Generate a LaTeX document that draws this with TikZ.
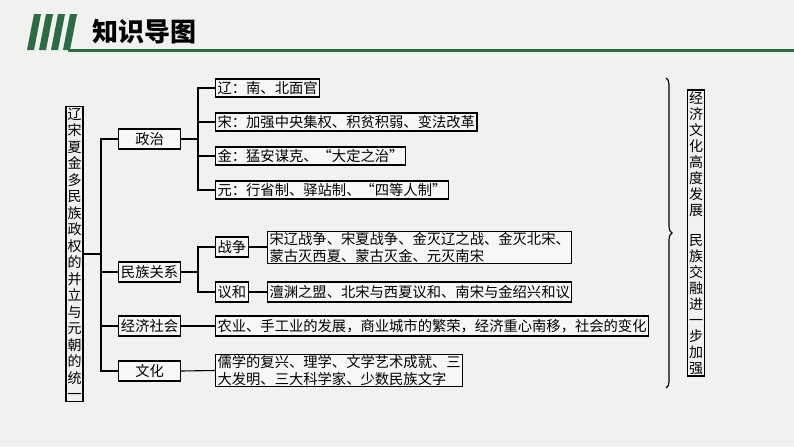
\documentclass[tikz,border=0pt]{standalone}
\usepackage{fontspec}
\setmainfont{Noto Sans CJK SC}
\usetikzlibrary{decorations.pathreplacing}
\definecolor{bg}{HTML}{F1F1EF}
\definecolor{hg}{HTML}{2F6A47}
\begin{document}
\begin{tikzpicture}[x=1pt,y=-1pt,
  bx/.style={draw=black,line width=1.1pt,fill=white!40!bg,inner xsep=2pt,inner ysep=1pt,anchor=west,font=\fontsize{14.3}{16.5}\selectfont,minimum height=18pt},
  cat/.style={bx,minimum width=62pt,minimum height=20pt,align=center},
  vt/.style={draw=black,line width=1.1pt,inner sep=1.5pt,align=center,font=\fontsize{14}{16.5}\selectfont},
  ln/.style={line width=1.1pt}]
\useasboundingbox (0,0) rectangle (794,447);
\fill[bg] (0,0) rectangle (794,447);
% header
\foreach \x in {27,39,51,63} \fill[hg] (\x,50) -- (\x+7,50) -- (\x+14,14) -- (\x+7,14) -- cycle;
\fill[hg] (68,48.5) rectangle (794,51.5);
\node[anchor=west,font=\fontsize{26}{26}\selectfont\bfseries] (title) at (89,32) {知识导图};
% left vertical
\node[vt] (L) at (74.5,254) {辽\\宋\\夏\\金\\多\\民\\族\\政\\权\\的\\并\\立\\与\\元\\朝\\的\\统\\一};
% categories
\node[cat] (zz) at (118,139) {政治};
\node[cat] (mz) at (118,272) {民族关系};
\node[cat] (jj) at (118,326) {经济社会};
\node[cat] (wh) at (118,371) {文化};
\coordinate (t) at (101,254);
\draw[ln] (L.east|-t) -- (t);
\draw[ln] (zz.west) -- (zz.west-|t) |- (wh.west);
\draw[ln] (mz.west) -- (mz.west-|t);
\draw[ln] (jj.west) -- (jj.west-|t);
% politics
\node[bx] (p1) at (215,88) {辽：南、北面官};
\node[bx] (p2) at (215,122) {宋：加强中央集权、积贫积弱、变法改革};
\node[bx] (p3) at (215,156) {金：猛安谋克、“大定之治”};
\node[bx] (p4) at (215,190) {元：行省制、驿站制、“四等人制”};
\coordinate (pz) at (198,139);
\draw[ln] (zz.east) -- (pz);
\draw[ln] (p1.west) -| (pz) |- (p4.west);
\draw[ln] (p2.west) -- (p2.west-|pz);
\draw[ln] (p3.west) -- (p3.west-|pz);
% ethnic relations
\node[bx,minimum height=20pt] (zh) at (215,247) {战争};
\node[bx,minimum height=20pt] (yh) at (215,292) {议和};
\coordinate (mzc) at (198,272);
\draw[ln] (mz.east) -- (mzc);
\draw[ln] (zh.west) -| (mzc) |- (yh.west);
\node[bx,align=left] (zht) at (267,247.5) {宋辽战争、宋夏战争、金灭辽之战、金灭北宋、\\蒙古灭西夏、蒙古灭金、元灭南宋};
\node[bx,minimum height=20pt] (yht) at (267,292) {澶渊之盟、北宋与西夏议和、南宋与金绍兴和议};
\draw[ln] (zh.east) -- (zht.west|-zh.east);
\draw[ln] (yh.east) -- (yht.west);
% economy & culture
\node[bx,minimum height=20pt] (jjt) at (215,326) {农业、手工业的发展，商业城市的繁荣，经济重心南移，社会的变化};
\draw[ln] (jj.east) -- (jjt.west);
\node[bx,align=left] (wht) at (215,370.5) {儒学的复兴、理学、文学艺术成就、三\\大发明、三大科学家、少数民族文字};
\draw[ln] (wh.east) -- (wht.west);
% brace and right box
\coordinate (b1) at (666,78);
\coordinate (b2) at (666,388);
\draw[ln,decorate,decoration={brace,amplitude=6pt}] (b1) -- (b2);
\node[vt,font=\fontsize{14}{16}\selectfont] (R) at (696,233) {经\\济\\文\\化\\高\\度\\发\\展\\[14pt]民\\族\\交\\融\\进\\一\\步\\加\\强};
\end{tikzpicture}
\end{document}
